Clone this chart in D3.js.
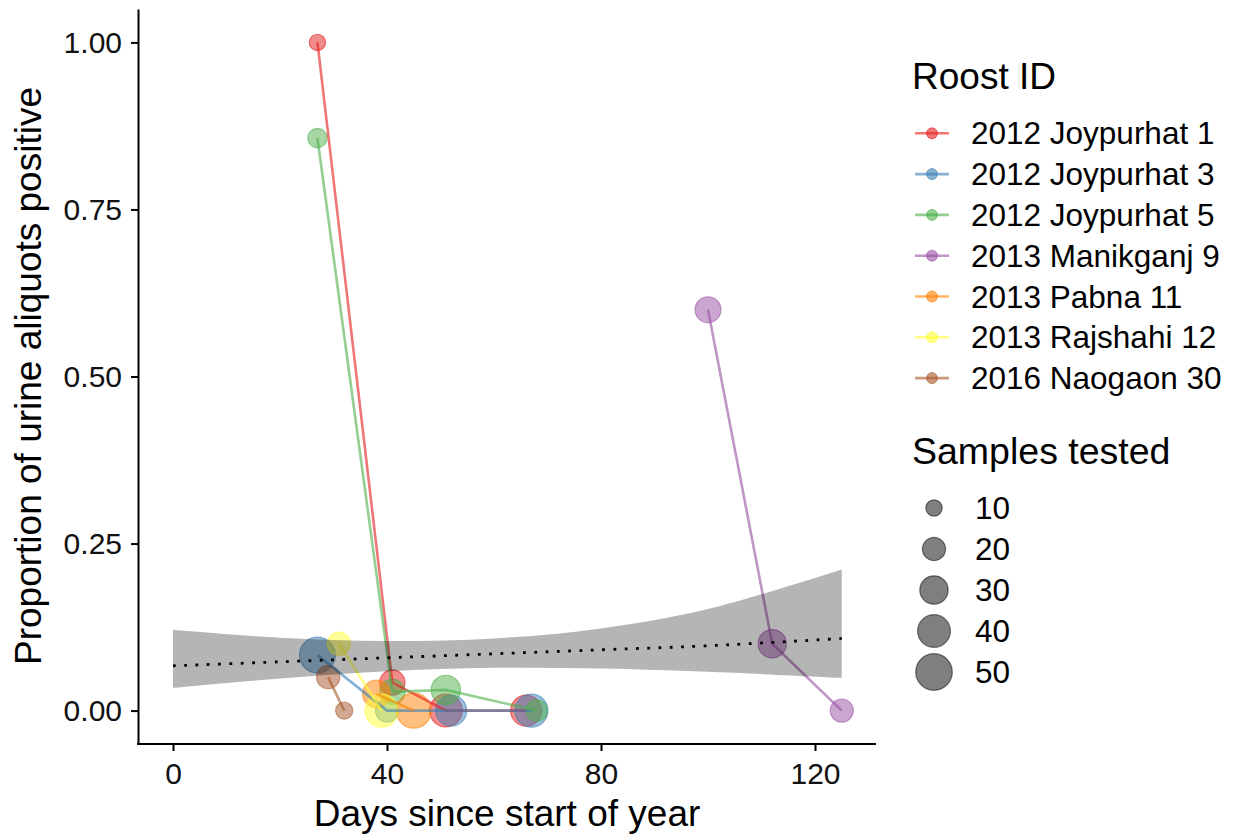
<!DOCTYPE html>
<html>
<head>
<meta charset="utf-8">
<script src="https://cdn.jsdelivr.net/npm/d3@7"></script>
<style>
  html, body { margin: 0; padding: 0; background: #fff; }
  svg { display: block; font-family: "Liberation Sans", Arial, Helvetica, sans-serif; }
</style>
</head>
<body>
<svg id="chart" width="1234" height="835"></svg>
<script>
// ---- data ----
const roostNames = ["2012 Joypurhat 1", "2012 Joypurhat 3", "2012 Joypurhat 5",
  "2013 Manikganj 9", "2013 Pabna 11", "2013 Rajshahi 12", "2016 Naogaon 30"];
const roostColors = ["#E41A1C", "#377EB8", "#4DAF4A", "#984EA3", "#FF7F00", "#FFFF33", "#A65628"];

// observations (roost index, day, proportion positive, samples tested)
const obsRoost = [0, 0, 0, 0, 1, 1, 1, 1, 2, 2, 2, 2, 3, 3, 3, 4, 4, 5, 5, 6, 6];
const obsDay   = [27, 41, 51, 66, 27, 40, 52, 67, 27, 41, 51, 68, 100, 112, 125, 38, 45, 31, 39, 29, 32];
const obsProp  = [1.0, 0.042, 0, 0, 0.083, 0, 0, 0, 0.857, 0.028, 0.031, 0, 0.6, 0.1, 0, 0.025, 0, 0.1, 0, 0.05, 0];
const obsN     = [10, 24, 40, 36, 48, 20, 36, 41, 14, 24, 32, 17, 25, 30, 20, 28, 46, 20, 41, 20, 11];

// fitted trend with confidence band
const fitDay = [0, 20, 40, 60, 80, 100, 125];
const fitMid = [0.067, 0.073, 0.079, 0.085, 0.091, 0.097, 0.108];
const fitLo  = [0.034, 0.048, 0.059, 0.064, 0.063, 0.058, 0.049];
const fitHi  = [0.121, 0.109, 0.104, 0.108, 0.123, 0.152, 0.211];

const xTicks = [0, 40, 80, 120];
const yTicks = [0, 0.25, 0.5, 0.75, 1.0];
const sizeBreaks = [10, 20, 30, 40, 50];

// ---- chart ----
const svg = d3.select("#chart");
const x = d3.scaleLinear().domain([-6.54, 131.4]).range([138, 876]);
const y = d3.scaleLinear().domain([-0.05, 1.05]).range([744, 9]);
const r = d3.scaleSqrt().domain([0, 50]).range([0, 18.3]);
const color = d3.scaleOrdinal().domain(d3.range(roostNames.length)).range(roostColors);

const obs = obsDay.map((d, i) => ({ g: obsRoost[i], day: d, p: obsProp[i], n: obsN[i] }));
const fit = fitDay.map((d, i) => ({ day: d, mid: fitMid[i], lo: fitLo[i], hi: fitHi[i] }));

// points
svg.append("g").selectAll("circle")
  .data(obs)
  .join("circle")
  .attr("cx", d => x(d.day))
  .attr("cy", d => y(d.p))
  .attr("r", d => r(d.n))
  .attr("fill", d => color(d.g))
  .attr("fill-opacity", 0.5)
  .attr("stroke", d => color(d.g))
  .attr("stroke-opacity", 0.55)
  .attr("stroke-width", 1.2);

// lines per roost
const groups = d3.groups(obs, d => d.g);
const line = d3.line().x(d => x(d.day)).y(d => y(d.p));
svg.append("g").selectAll("path")
  .data(groups)
  .join("path")
  .attr("d", d => line(d[1].slice().sort((a, b) => a.day - b.day)))
  .attr("fill", "none")
  .attr("stroke", d => color(d[0]))
  .attr("stroke-opacity", 0.6)
  .attr("stroke-width", 2.6);

// ribbon (translucent, drawn over the points)
svg.append("path")
  .datum(fit)
  .attr("d", d3.area().x(d => x(d.day)).y0(d => y(d.lo)).y1(d => y(d.hi)).curve(d3.curveCatmullRom))
  .attr("fill", "#000")
  .attr("fill-opacity", 0.29);

// dotted trend line
svg.append("path")
  .datum(fit)
  .attr("d", d3.line().x(d => x(d.day)).y(d => y(d.mid)).curve(d3.curveCatmullRom))
  .attr("fill", "none")
  .attr("stroke", "#000")
  .attr("stroke-width", 2.8)
  .attr("stroke-dasharray", "2.8,8.5");

// axes
const xAxis = svg.append("g").attr("transform", "translate(0,744)")
  .call(d3.axisBottom(x).tickValues(xTicks).tickSize(7).tickSizeOuter(0).tickPadding(12).tickFormat(d3.format("d")));
const yAxis = svg.append("g").attr("transform", "translate(138,0)")
  .call(d3.axisLeft(y).tickValues(yTicks).tickSize(7).tickSizeOuter(0).tickPadding(9).tickFormat(d3.format(".2f")));
[xAxis, yAxis].forEach(a => {
  a.select(".domain").attr("stroke", "#000").attr("stroke-width", 2);
  a.selectAll(".tick line").attr("stroke", "#000").attr("stroke-width", 2);
  a.selectAll(".tick text").attr("fill", "#111").style("font-size", "30px").style("font-family", "'Liberation Sans', Arial, sans-serif");
});
xAxis.select(".domain").attr("d", "M137,0H876");

// axis titles
svg.append("text")
  .attr("x", 507).attr("y", 826)
  .attr("text-anchor", "middle")
  .style("font-size", "37px")
  .text("Days since start of year");
svg.append("text")
  .attr("transform", "translate(41,376) rotate(-90)")
  .attr("text-anchor", "middle")
  .style("font-size", "37px")
  .text("Proportion of urine aliquots positive");

// legend: Roost ID
const leg = svg.append("g");
leg.append("text").attr("x", 912).attr("y", 89).style("font-size", "37px").text("Roost ID");
const rows = leg.selectAll("g.row").data(roostNames).join("g")
  .attr("class", "row")
  .attr("transform", (d, i) => `translate(0,${133.3 + i * 40.8})`);
rows.append("line")
  .attr("x1", 915).attr("x2", 949).attr("y1", 0).attr("y2", 0)
  .attr("stroke", (d, i) => color(i)).attr("stroke-opacity", 0.6).attr("stroke-width", 2.6);
rows.append("circle")
  .attr("cx", 932).attr("cy", 0).attr("r", 5.5)
  .attr("fill", (d, i) => color(i)).attr("fill-opacity", 0.6)
  .attr("stroke", (d, i) => color(i)).attr("stroke-opacity", 0.6);
rows.append("text")
  .attr("x", 971).attr("y", 11)
  .style("font-size", "31.5px")
  .text(d => d);

// legend: Samples tested
svg.append("text").attr("x", 912).attr("y", 464).style("font-size", "37.5px").text("Samples tested");
const srows = svg.selectAll("g.srow").data(sizeBreaks).join("g")
  .attr("class", "srow")
  .attr("transform", (d, i) => `translate(0,${508 + i * 41})`);
srows.append("circle")
  .attr("cx", 934).attr("cy", 0).attr("r", d => r(d))
  .attr("fill", "#000").attr("fill-opacity", 0.5)
  .attr("stroke", "#000").attr("stroke-opacity", 0.5).attr("stroke-width", 1.2);
srows.append("text")
  .attr("x", 975).attr("y", 11)
  .style("font-size", "31.5px")
  .text(d => d);
</script>
</body>
</html>
